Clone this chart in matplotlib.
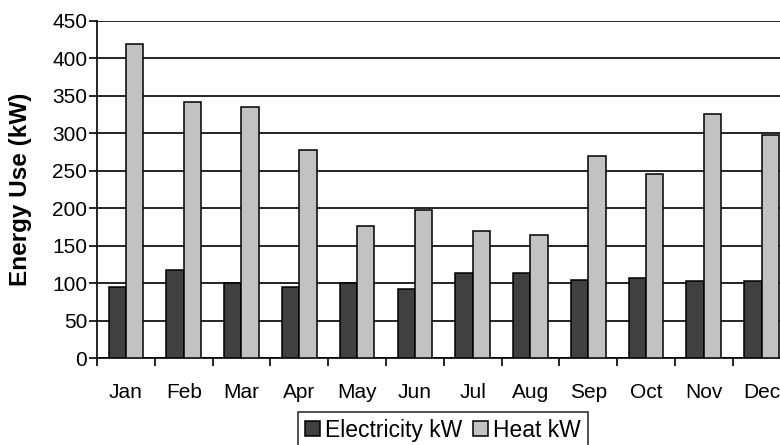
import matplotlib.pyplot as plt
import numpy as np

plt.rcParams["font.family"] = ["Liberation Sans", "DejaVu Sans"]

months = ["Jan", "Feb", "Mar", "Apr", "May", "Jun", "Jul", "Aug", "Sep", "Oct", "Nov", "Dec"]
electricity_kw = [95, 118, 100, 95, 100, 92, 114, 114, 104, 107, 103, 103]
heat_kw = [419, 342, 335, 278, 177, 198, 170, 164, 269, 246, 325, 298]
y_ticks = [0, 50, 100, 150, 200, 250, 300, 350, 400, 450]

fig = plt.figure(figsize=(7.8, 4.45), dpi=100)
# axes runs past the right edge, as in the cropped source image
ax = fig.add_axes([0.1244, 0.1948, 0.889, 0.7587])

x = np.arange(len(months))
w = 0.3
ax.bar(x - w / 2, electricity_kw, w, color="#404040", edgecolor="black", linewidth=1.1,
       label="Electricity kW", zorder=3)
ax.bar(x + w / 2, heat_kw, w, color="#c2c2c2", edgecolor="black", linewidth=1.1,
       label="Heat kW", zorder=3)

ax.set_xlim(-0.5, len(months) - 0.5)
ax.set_ylim(0, 450)
ax.set_yticks(y_ticks)
ax.yaxis.grid(True, color="black", linewidth=1.2, zorder=0)
ax.set_axisbelow(True)

# boundary ticks without labels, month names centred between them
ax.set_xticks(np.arange(-0.5, len(months), 1.0))
ax.set_xticklabels([])
ax.set_xticks(x, minor=True)
ax.set_xticklabels(months, minor=True)
ax.tick_params(axis="x", which="major", direction="out", length=6, width=1.2, color="black")
ax.tick_params(axis="x", which="minor", length=0, pad=18, labelsize=15)
ax.tick_params(axis="y", direction="out", length=6, width=1.2, pad=1, labelsize=15)

for side in ["top", "right"]:
    ax.spines[side].set_visible(False)
for side in ["left", "bottom"]:
    ax.spines[side].set_color("black")
    ax.spines[side].set_linewidth(1.2)

ax.set_ylabel("Energy Use (kW)", fontsize=17.5, fontweight="bold")
ax.yaxis.set_label_coords(-0.094, 0.5)

leg = fig.legend(loc="upper center", bbox_to_anchor=(443 / 780, 1 - 412 / 445), ncol=2,
                 fontsize=16.5, frameon=True, fancybox=False, handlelength=0.65,
                 handleheight=0.65, handletextpad=0.2, columnspacing=0.5,
                 borderpad=0.3, borderaxespad=0)
leg.get_frame().set_edgecolor("black")
leg.get_frame().set_linewidth(1.2)

fig.savefig("out.png", dpi=100)
